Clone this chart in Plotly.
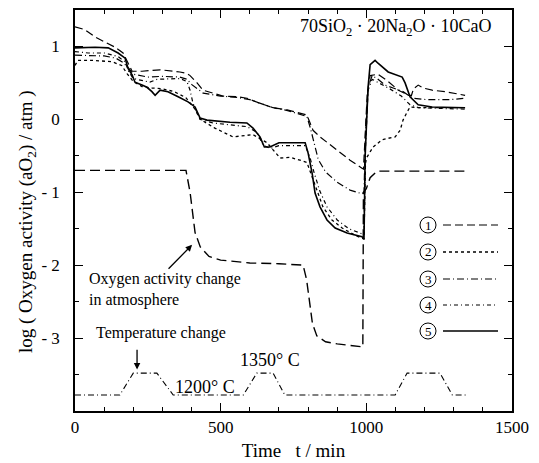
import plotly.graph_objects as go

# ---------------- data ----------------
t1 = [0, 34, 69, 103, 137, 165, 182, 196, 230, 292, 360, 384, 395, 419, 439, 474, 508, 556, 590, 635, 680, 728, 762,
      796, 807, 817, 841, 875, 910, 944, 985, 990, 995, 1003, 1013, 1040, 1075, 1110, 1145, 1155, 1162, 1178, 1195,
      1226, 1270, 1304, 1339]
y1 = [1.27, 1.23, 1.13, 1.06, 0.99, 0.91, 0.78, 0.66, 0.66, 0.68, 0.65, 0.63, 0.60, 0.50, 0.40, 0.36, 0.32, 0.31, 0.29,
      0.22, 0.16, 0.13, 0.10, 0.06, -0.05, -0.15, -0.24, -0.35, -0.45, -0.56, -0.67, -0.68, -0.3, 0.35, 0.6, 0.62,
      0.52, 0.40, 0.33, 0.33, 0.42, 0.47, 0.43, 0.40, 0.38, 0.36, 0.33]

t2 = [0, 10, 60, 127, 160, 180, 200, 230, 264, 300, 340, 380, 410, 430, 480, 542, 611, 659, 704, 738, 772, 796, 814,
      831, 851, 882, 917, 961, 985, 992, 997, 1002, 1023, 1054, 1075, 1099, 1116, 1126, 1140, 1150, 1180, 1250, 1339]
y2 = [0.74, 0.81, 0.81, 0.79, 0.74, 0.62, 0.52, 0.45, 0.43, 0.42, 0.38, 0.30, 0.15, 0.0, -0.12, -0.24, -0.21, -0.32,
      -0.53, -0.52, -0.56, -0.59, -0.79, -0.97, -1.20, -1.38, -1.49, -1.59, -1.63, -1.64, -0.6, -0.52, -0.38, -0.28,
      -0.26, -0.24, -0.15, -0.01, 0.10, 0.17, 0.16, 0.16, 0.16]

t3 = [0, 50, 100, 140, 165, 185, 200, 250, 300, 360, 384, 400, 420, 440, 500, 560, 600, 640, 680, 730, 796, 808, 820,
      835, 860, 899, 944, 985, 992, 997, 1006, 1020, 1037, 1064, 1092, 1126, 1160, 1208, 1287, 1339]
y3 = [0.88, 0.88, 0.87, 0.84, 0.78, 0.70, 0.62, 0.58, 0.59, 0.58, 0.55, 0.48, 0.42, 0.36, 0.32, 0.30, 0.27, 0.22,
      0.16, 0.12, 0.04, -0.12, -0.32, -0.55, -0.72, -0.86, -0.97, -1.02, -1.0, -0.2, 0.44, 0.60, 0.56, 0.47, 0.43,
      0.38, 0.29, 0.27, 0.27, 0.29]

t4 = [0, 45, 103, 148, 172, 185, 200, 257, 282, 360, 384, 395, 405, 429, 474, 532, 590, 625, 645, 670, 700, 790, 805,
      820, 840, 865, 900, 940, 985, 992, 997, 1006, 1020, 1045, 1080, 1120, 1150, 1180, 1250, 1339]
y4 = [0.93, 0.91, 0.91, 0.86, 0.79, 0.65, 0.56, 0.51, 0.55, 0.56, 0.52, 0.40, 0.22, 0.0, -0.05, -0.08, -0.10, -0.18,
      -0.35, -0.40, -0.36, -0.36, -0.50, -0.72, -0.98, -1.20, -1.38, -1.50, -1.57, -1.58, -0.4, 0.40, 0.55, 0.50,
      0.42, 0.32, 0.20, 0.16, 0.15, 0.14]

t5 = [0, 34, 69, 114, 148, 172, 182, 196, 206, 230, 247, 264, 275, 292, 319, 354, 388, 412, 429, 453, 532, 590, 611,
      635, 650, 669, 700, 790, 800, 814, 824, 841, 865, 893, 934, 985, 992, 996, 1006, 1013, 1030, 1040, 1075, 1123,
      1133, 1150, 1178, 1226, 1339]
y5 = [0.98, 0.99, 0.99, 0.98, 0.91, 0.84, 0.70, 0.61, 0.51, 0.47, 0.44, 0.38, 0.33, 0.40, 0.38, 0.31, 0.24, 0.17,
      0.02, -0.01, -0.04, -0.05, -0.12, -0.24, -0.38, -0.38, -0.32, -0.32, -0.46, -0.74, -1.01, -1.20, -1.38, -1.49,
      -1.56, -1.61, -1.64, -0.5, 0.44, 0.75, 0.81, 0.77, 0.65, 0.58, 0.50, 0.31, 0.20, 0.17, 0.16]

t_atm = [0, 381, 395, 405, 412, 430, 460, 500, 600, 700, 783, 795, 805, 815, 830, 860, 900, 950, 988, 990, 1000, 1013,
         1037, 1346]
y_atm = [-0.7, -0.7, -1.0, -1.3, -1.55, -1.75, -1.88, -1.93, -1.97, -1.98, -2.0, -2.2, -2.5, -2.8, -2.97, -3.05,
         -3.08, -3.1, -3.12, -1.0, -0.95, -0.8, -0.71, -0.71]

t_temp = [0, 154, 200, 281, 337, 578, 624, 680, 720, 1099, 1140, 1253, 1295, 1350]
y_temp = [-3.78, -3.78, -3.48, -3.48, -3.78, -3.78, -3.48, -3.48, -3.78, -3.78, -3.48, -3.48, -3.78, -3.78]

legend_labels = ["1", "2", "3", "4", "5"]
x_tickvals = [0, 500, 1000, 1500]
x_ticktext = ["0", "500", "1000", "1500"]
y_tickvals = [1, 0, -1, -2, -3]
y_ticktext = ["1", "0", "- 1", "- 2", "- 3"]

# ---------------- styles ----------------
dashes = ["8px,4px", "3px,3px", "7px,3px,1px,3px", "4px,3px,1px,3px", "solid"]
widths = [1.2, 1.3, 1.2, 1.2, 1.6]
series = [(t1, y1), (t2, y2), (t3, y3), (t4, y4), (t5, y5)]

SERIF = "Liberation Serif, Times New Roman, serif"
L, R, T, B = 75, 27, 10, 52
W, H = 539, 463
PW, PH = W - L - R, H - T - B


def px2paper(px, py):
    return (px - L) / PW, (H - B - py) / PH


fig = go.Figure()
for (tt, yy), d, w in zip(series, dashes, widths):
    fig.add_trace(go.Scatter(x=tt, y=yy, mode="lines", showlegend=False, hoverinfo="skip",
                             line=dict(color="black", width=w, dash=d)))

fig.add_trace(go.Scatter(x=t_atm, y=y_atm, mode="lines", showlegend=False, hoverinfo="skip",
                         line=dict(color="black", width=1.4, dash="10px,5px")))
fig.add_trace(go.Scatter(x=t_temp, y=y_temp, mode="lines", showlegend=False, hoverinfo="skip",
                         line=dict(color="black", width=1.1, dash="6px,3px,1px,3px")))

# custom legend: circled number then line sample
leg_y = [225, 252, 279, 305, 331]
rx, ry = 8 / PW, 8 / PH
for lab, py, d, w in zip(legend_labels, leg_y, dashes, widths):
    cx, cy = px2paper(428, py)
    fig.add_shape(type="circle", xref="paper", yref="paper", x0=cx - rx, x1=cx + rx, y0=cy - ry, y1=cy + ry,
                  line=dict(color="black", width=1))
    fig.add_annotation(xref="paper", yref="paper", x=cx, y=cy, text=lab, showarrow=False,
                       xanchor="center", yanchor="middle",
                       font=dict(family=SERIF, size=13, color="black"))
    x0, _ = px2paper(443, py)
    x1, _ = px2paper(498, py)
    fig.add_shape(type="line", xref="paper", yref="paper", x0=x0, x1=x1, y0=cy, y1=cy,
                  line=dict(color="black", width=w, dash=d))

# annotations
fig.add_annotation(x=1102, y=1.26, text="70SiO<sub>2</sub> · 20Na<sub>2</sub>O · 10CaO", showarrow=False,
                   font=dict(family=SERIF, size=18, color="black"))
fig.add_annotation(x=40, y=-2.34, text="Oxygen activity change<br>in atmosphere", showarrow=False,
                   xanchor="left", align="left", font=dict(family=SERIF, size=16, color="black"))
fig.add_annotation(x=402, y=-1.72, ax=316, ay=-2.07, axref="x", ayref="y", text="", showarrow=True,
                   arrowhead=2, arrowsize=1, arrowwidth=1.3, arrowcolor="black")
fig.add_annotation(x=295, y=-2.93, text="Temperature change", showarrow=False,
                   font=dict(family=SERIF, size=16, color="black"))
fig.add_annotation(x=213, y=-3.43, ax=213, ay=-3.14, axref="x", ayref="y", text="", showarrow=True,
                   arrowhead=2, arrowsize=1, arrowwidth=1.3, arrowcolor="black")
fig.add_annotation(x=446, y=-3.67, text="1200° C", showarrow=False,
                   font=dict(family=SERIF, size=18, color="black"))
fig.add_annotation(x=668, y=-3.30, text="1350° C", showarrow=False,
                   font=dict(family=SERIF, size=18, color="black"))

# y-axis title placed as rotated text
ytx, yty = px2paper(27, 222)
fig.add_annotation(xref="paper", yref="paper", x=ytx, y=yty, textangle=-90, showarrow=False,
                   xanchor="center", yanchor="middle",
                   text="log ( Oxygen activity (aO<sub>2</sub>) / atm )",
                   font=dict(family=SERIF, size=19, color="black"))

axis_common = dict(showline=True, linecolor="black", linewidth=1.5, mirror="ticks", ticks="inside",
                   tickcolor="black", ticklen=8, tickwidth=1.2, showgrid=False, zeroline=False, automargin=False,
                   tickfont=dict(family=SERIF, size=17, color="black"))
fig.update_xaxes(range=[0, 1500], tickvals=x_tickvals, ticktext=x_ticktext,
                 minor=dict(dtick=100, ticks="inside", ticklen=4, tickcolor="black", tickwidth=1),
                 title=dict(text="Time&nbsp;&nbsp;&nbsp;t / min",
                            font=dict(family=SERIF, size=19, color="black"), standoff=8),
                 **axis_common)
fig.update_yaxes(range=[-4.0, 1.5], tickvals=y_tickvals, ticktext=y_ticktext, ticklabelstandoff=10,
                 minor=dict(tickvals=[1.5, 0.5, -0.5, -1.5, -2.5, -3.5], ticks="inside", ticklen=4,
                            tickcolor="black", tickwidth=1),
                 **axis_common)

fig.update_layout(width=W, height=H, margin=dict(l=L, r=R, t=T, b=B),
                  paper_bgcolor="white", plot_bgcolor="white", showlegend=False)

fig.write_html("out.html", config={"displayModeBar": False},
               post_script="document.body.style.margin='0px';")
